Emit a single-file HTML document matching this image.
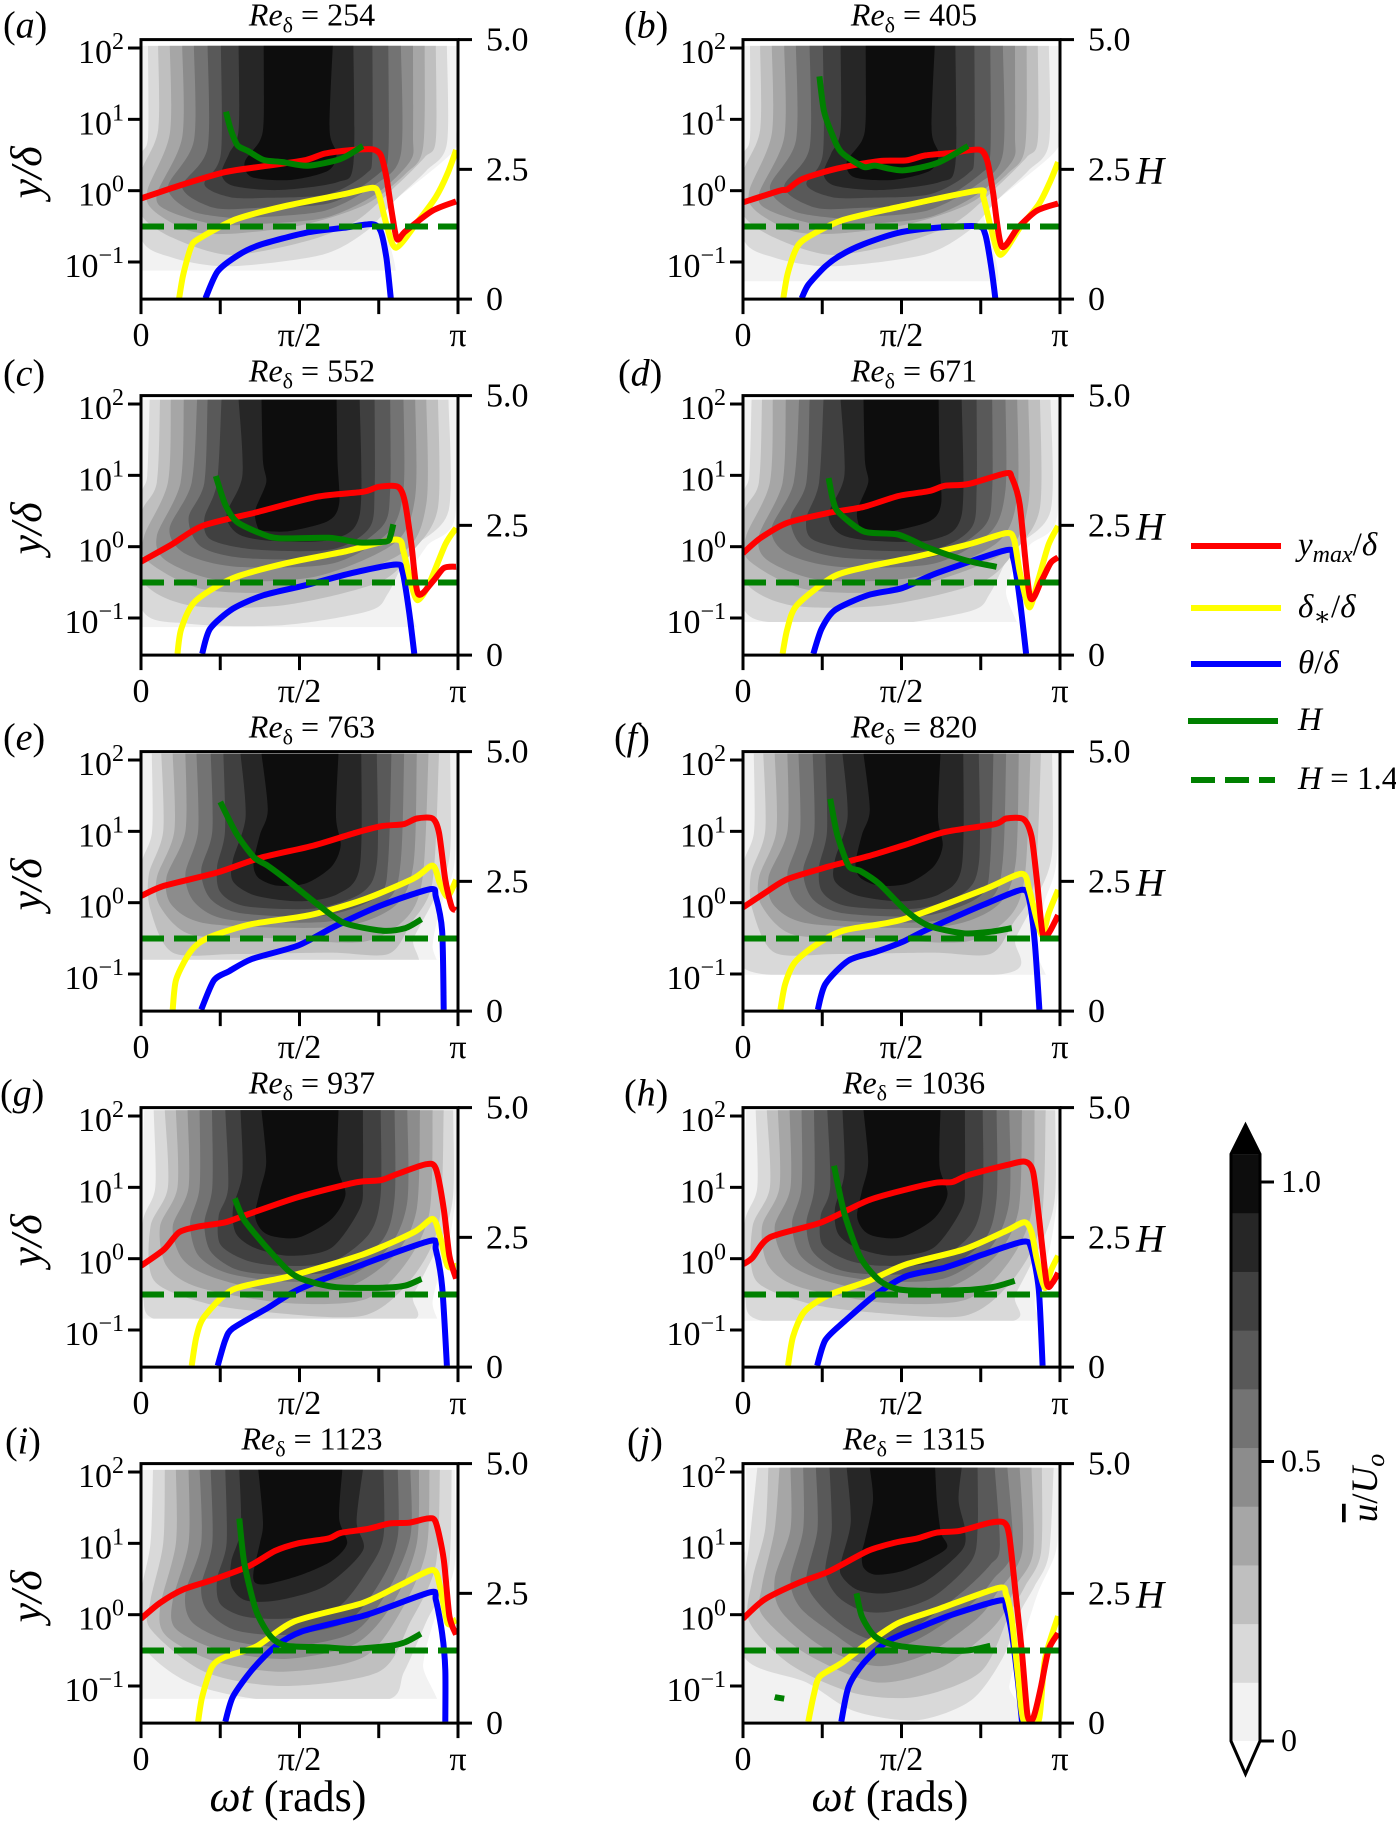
<!DOCTYPE html>
<html><head><meta charset="utf-8"><title>Boundary layer contours</title>
<style>
html,body{margin:0;padding:0;background:#fff;}
#fig{display:block;width:1396px;height:1822px;font-family:"Liberation Serif","DejaVu Serif",serif;}
text{font-family:"Liberation Serif","DejaVu Serif",serif;fill:#000;}
</style></head>
<body>
<svg id="fig" width="1396" height="1822" viewBox="0 0 1396 1822"></svg>
<script>
// ---- shared tick and level data ----
const xTickValues=[0,0.25,0.5,0.75,1];
const xTickLabelValues=[0,0.5,1];
const xTickLabels=['0','π/2','π'];
const yDecades=[-1,0,1,2];
const yDecadeLabels=['−1','0','1','2'];
const hTickValues=[0,2.5,5];
const hTickLabels=['0','2.5','5.0'];
const hReference=1.4;
const levelGrays=['#f2f2f2','#d9d9d9','#bfbfbf','#a6a6a6','#8c8c8c','#737373','#595959','#404040','#262626','#0d0d0d'];
const levelEdges=[0,0.105,0.21,0.315,0.42,0.525,0.63,0.735,0.84,0.945,1.05];
const cbarTicks=[0,0.5,1];
const cbarTickLabels=['0','0.5','1.0'];
const reValues=[254,405,552,671,763,820,937,1036,1123,1315];
const panelLetters=['a','b','c','d','e','f','g','h','i','j'];
const contourFloors=[-1.12,-1.27,-1.127,-1.056,-0.8,-1.01,-0.84,-0.87,-1.18,-1.52];

// ---- contour outlines: [ωt/π, log10(y/δ)] per level ----
const contourAB=[
[[.005,2.03],[.005,1],[0,.6],[0,-1.6],[.76,-1.6],[.76,-.3],[.81,-.1],[.985,.55],[.994,.9],[.994,2.03]],
[[.022,2.03],[.022,.75],[0,.45],[0,-.66],[.1,-.94],[.28,-1.06],[.57,-.9],[.71,-.57],[.8,-.14],[.9,.28],[.965,.66],[.965,2.03]],
[[.054,2.03],[.054,.85],[0,.25],[0,-.33],[.1,-.66],[.28,-.9],[.52,-.71],[.68,-.42],[.81,.09],[.895,.47],[.93,.71],[.93,2.03]],
[[.091,2.03],[.091,.8],[.02,0],[.04,-.28],[.157,-.57],[.3,-.6],[.52,-.47],[.71,-.19],[.835,.24],[.89,.61],[.895,2.03]],
[[.13,2.03],[.13,.75],[.05,-.05],[.085,-.28],[.23,-.47],[.36,-.47],[.58,-.38],[.74,-.05],[.85,.42],[.858,.8],[.858,2.03]],
[[.167,2.03],[.167,.7],[.085,.05],[.157,-.28],[.28,-.38],[.34,-.38],[.58,-.28],[.74,.09],[.82,.52],[.82,2.03]],
[[.21,2.03],[.21,.6],[.13,.05],[.23,-.24],[.375,-.24],[.6,-.17],[.75,.24],[.78,.52],[.78,2.03]],
[[.252,2.03],[.252,.52],[.2,.09],[.28,-.09],[.4,-.1],[.59,-.05],[.71,.24],[.73,.52],[.73,2.03]],
[[.308,2.03],[.308,.85],[.278,.52],[.254,.24],[.29,.07],[.435,.01],[.62,.12],[.67,.38],[.67,2.03]],
[[.387,2.03],[.387,1],[.375,.7],[.327,.4],[.35,.19],[.47,.15],[.59,.28],[.617,.52],[.595,.85],[.605,2.03]]];
const contourCD=[
[[.003,2.06],[0,1],[0,-1.6],[.83,-1.6],[.83,-.6],[.9,0],[.99,.4],[.994,2.06]],
[[.027,2.06],[.02,1],[0,.65],[0,-.85],[.15,-1.08],[.45,-1.1],[.72,-.9],[.78,-.65],[.85,-.05],[.97,.5],[.97,2.06]],
[[.06,2.06],[.05,.9],[0,.45],[0,-.45],[.15,-.82],[.45,-.82],[.75,-.5],[.86,-.05],[.937,.55],[.937,2.06]],
[[.094,2.06],[.085,.9],[.01,.15],[.02,-.2],[.2,-.6],[.5,-.6],[.82,-.1],[.9,.6],[.9,2.06]],
[[.135,2.06],[.125,.9],[.05,.15],[.08,-.2],[.25,-.47],[.55,-.42],[.8,.05],[.865,.7],[.865,2.06]],
[[.177,2.06],[.16,.9],[.09,.25],[.14,-.1],[.3,-.28],[.6,-.24],[.78,.2],[.828,.8],[.828,2.06]],
[[.21,2.06],[.2,.9],[.15,.4],[.19,0],[.33,-.16],[.6,-.14],[.76,.28],[.786,.8],[.786,2.06]],
[[.254,2.06],[.24,.9],[.2,.4],[.22,.1],[.36,-.04],[.6,-.04],[.72,.26],[.737,.8],[.737,2.06]],
[[.308,2.06],[.32,1],[.27,.45],[.31,.17],[.42,.08],[.6,.1],[.69,.45],[.69,2.06]],
[[.38,2.06],[.385,1.2],[.395,.9],[.36,.5],[.37,.25],[.39,.22],[.47,.22],[.59,.36],[.625,.6],[.62,1.2],[.617,2.06]]];
const contourEF=[
[[.005,2.09],[0,1],[0,-1.6],[.92,-1.6],[.92,-.6],[.95,0],[.99,.6],[.994,2.09]],
[[.034,2.09],[.035,1],[0,.5],[0,-.5],[.06,-1],[.82,-1],[.86,-.5],[.93,.1],[.975,.7],[.975,2.09]],
[[.064,2.09],[.07,1],[.025,.4],[.03,-.1],[.1,-.7],[.3,-.72],[.6,-.7],[.78,-.72],[.85,-.3],[.92,.3],[.94,2.09]],
[[.1,2.09],[.105,1],[.05,.35],[.06,-.05],[.16,-.45],[.42,-.5],[.7,-.55],[.84,-.2],[.89,.4],[.907,2.09]],
[[.14,2.09],[.14,1],[.08,.35],[.1,-.05],[.22,-.3],[.62,-.34],[.8,-.05],[.86,.55],[.87,2.09]],
[[.175,2.09],[.18,1],[.14,.4],[.17,0],[.28,-.24],[.6,-.26],[.78,.05],[.82,.6],[.83,2.09]],
[[.22,2.09],[.225,1],[.19,.45],[.22,.05],[.32,-.15],[.58,-.18],[.75,.1],[.78,.6],[.79,2.09]],
[[.26,2.09],[.265,1],[.24,.5],[.25,.15],[.33,-.05],[.55,-.08],[.7,.15],[.745,.6],[.744,2.09]],
[[.314,2.09],[.33,1.2],[.29,.6],[.29,.3],[.36,.1],[.5,.02],[.62,.12],[.69,.5],[.695,2.09]],
[[.38,2.09],[.4,1.3],[.375,.95],[.355,.55],[.37,.35],[.43,.24],[.52,.27],[.6,.5],[.63,.8],[.615,1.2],[.623,2.09]]];
const contourGH=[
[[.01,2.08],[.005,1],[0,-1.6],[.92,-1.6],[.92,-.6],[.97,.2],[.995,1],[.995,2.08]],
[[.04,2.08],[.045,1],[.005,.5],[.005,-.5],[.1,-.9],[.82,-.9],[.86,-.5],[.95,.3],[.985,.9],[.985,2.08]],
[[.075,2.08],[.085,1],[.03,.45],[.04,-.3],[.2,-.62],[.4,-.75],[.7,-.8],[.85,-.3],[.94,.5],[.955,2.08]],
[[.11,2.08],[.115,1],[.06,.45],[.08,-.1],[.18,-.4],[.45,-.62],[.7,-.58],[.83,-.1],[.91,.65],[.92,2.08]],
[[.147,2.08],[.15,1],[.1,.45],[.13,0],[.22,-.25],[.42,-.46],[.65,-.4],[.8,.05],[.87,.7],[.88,2.08]],
[[.185,2.08],[.185,1],[.155,.5],[.18,.05],[.27,-.2],[.45,-.32],[.64,-.27],[.78,.15],[.84,.8],[.84,2.08]],
[[.224,2.08],[.225,1],[.2,.5],[.22,.1],[.3,-.15],[.42,-.22],[.62,-.17],[.76,.25],[.8,.85],[.8,2.08]],
[[.266,2.08],[.275,1],[.245,.6],[.25,.2],[.33,-.02],[.44,-.1],[.6,-.05],[.72,.35],[.756,.9],[.756,2.08]],
[[.314,2.08],[.32,1.2],[.29,.7],[.3,.35],[.36,.15],[.47,.04],[.6,.15],[.69,.7],[.7,1.1],[.7,2.08]],
[[.38,2.08],[.395,1.35],[.375,.95],[.36,.6],[.38,.4],[.42,.31],[.5,.3],[.6,.55],[.645,.9],[.62,1.3],[.623,2.08]]];
const contourI=[
[[.005,2.03],[0,1],[0,-1.6],[.89,-1.6],[.89,-.7],[.93,0],[.99,.7],[.99,2.03]],
[[.038,2.03],[.03,1],[0,.3],[0,-.4],[.15,-.95],[.4,-1.2],[.77,-1.2],[.83,-.8],[.9,-.1],[.97,.6],[.98,2.03]],
[[.075,2.03],[.07,1],[.03,.2],[.03,-.2],[.2,-.8],[.45,-1],[.75,-.8],[.85,-.1],[.93,.7],[.943,2.03]],
[[.11,2.03],[.11,1],[.06,.1],[.08,-.3],[.23,-.65],[.45,-.8],[.7,-.6],[.82,.05],[.9,.9],[.91,2.03]],
[[.15,2.03],[.15,1],[.1,.2],[.11,-.2],[.25,-.5],[.46,-.62],[.68,-.4],[.8,.2],[.87,1],[.877,2.03]],
[[.185,2.03],[.19,1],[.14,.3],[.16,-.1],[.27,-.35],[.46,-.45],[.67,-.25],[.78,.35],[.85,1.1],[.85,2.03]],
[[.22,2.03],[.225,1],[.19,.4],[.21,.05],[.3,-.22],[.46,-.28],[.65,-.1],[.76,.5],[.81,1.1],[.81,2.03]],
[[.266,2.03],[.27,1],[.24,.5],[.25,.15],[.33,-.03],[.47,-.05],[.62,.1],[.72,.65],[.765,1.1],[.765,2.03]],
[[.31,2.03],[.315,1.2],[.285,.75],[.285,.4],[.33,.2],[.43,.2],[.58,.4],[.7,.9],[.68,1.3],[.7,2.03]],
[[.37,2.03],[.385,1.3],[.375,1],[.355,.6],[.36,.45],[.4,.43],[.5,.55],[.6,.75],[.65,1],[.625,1.35],[.635,2.03]]];
const contourJ=[
[[.01,2.06],[.01,1],[0,.6],[0,-1.6],[.84,-1.6],[.84,-1],[.88,-.4],[.93,.3],[.985,.85],[.994,1.3],[.994,2.06]],
[[.045,2.06],[.02,1],[.005,.5],[.005,-.6],[.2,-.95],[.35,-1.35],[.55,-1.48],[.72,-1.2],[.82,-.6],[.87,0],[.92,.4],[.965,.85],[.98,2.06]],
[[.08,2.06],[.07,1.2],[.03,.5],[.02,-.1],[.15,-.7],[.35,-1.1],[.55,-1.15],[.75,-.8],[.84,0],[.89,.4],[.94,.87],[.943,2.06]],
[[.115,2.06],[.1,1.2],[.06,.4],[.06,0],[.2,-.55],[.42,-.95],[.62,-.75],[.76,-.3],[.82,0],[.86,.4],[.915,.87],[.91,2.06]],
[[.15,2.06],[.15,1.2],[.1,.5],[.12,.05],[.25,-.45],[.42,-.72],[.58,-.55],[.74,-.05],[.8,.3],[.88,.87],[.873,2.06]],
[[.19,2.06],[.19,1.2],[.15,.5],[.18,.1],[.28,-.25],[.4,-.55],[.55,-.35],[.72,.15],[.79,.5],[.85,.9],[.834,2.06]],
[[.23,2.06],[.235,1.2],[.2,.5],[.24,.15],[.33,-.2],[.42,-.35],[.55,-.15],[.7,.35],[.78,.7],[.81,.95],[.794,2.06]],
[[.273,2.06],[.28,1.2],[.26,.6],[.3,.25],[.38,.05],[.47,.05],[.6,.25],[.72,.75],[.74,1.2],[.74,2.06]],
[[.327,2.06],[.34,1.3],[.31,.75],[.31,.55],[.36,.35],[.45,.3],[.57,.45],[.69,.9],[.7,1.2],[.68,1.6],[.69,2.06]],
[[.4,2.06],[.41,1.6],[.385,1.05],[.375,.87],[.38,.66],[.42,.56],[.515,.63],[.64,.92],[.624,1.15],[.612,1.58],[.606,2.06]]];

// ---- series: [ωt/π, log10(y/δ)] ----
const ymaxA=[[0,-.11],[.12,.07],[.266,.26],[.4,.35],[.52,.43],[.58,.52],[.665,.57],[.73,.58],[.756,.5],[.774,.19],[.792,-.33],[.808,-.68],[.834,-.57],[.92,-.28],[.994,-.15]];
const dstarA=[[.12,-1.52],[.133,-1.18],[.157,-.8],[.18,-.68],[.3,-.4],[.46,-.21],[.64,-.05],[.73,.04],[.75,-.05],[.774,-.47],[.804,-.8],[.87,-.45],[.93,-.09],[.967,.24],[.994,.57]];
const thetaA=[[.203,-1.51],[.242,-1.13],[.308,-.9],[.375,-.76],[.52,-.59],[.64,-.52],[.73,-.47],[.756,-.57],[.774,-.94],[.788,-1.51]];
const shapeA=[[.268,3.61],[.284,3.25],[.305,2.96],[.339,2.85],[.387,2.68],[.447,2.64],[.526,2.57],[.629,2.7],[.7,2.95]];
const ymaxB=[[0,-.165],[.115,0],[.14,.02],[.188,.165],[.297,.31],[.43,.415],[.515,.425],[.576,.495],[.66,.53],[.745,.575],[.77,.425],[.788,0],[.816,-.78],[.867,-.52],[.927,-.28],[.994,-.18]];
const dstarB=[[.127,-1.51],[.14,-1.18],[.164,-.85],[.194,-.68],[.31,-.42],[.49,-.23],[.74,0],[.758,-.09],[.782,-.52],[.812,-.9],[.873,-.52],[.933,-.19],[.97,.14],[.994,.4]];
const thetaB=[[.185,-1.51],[.206,-1.32],[.26,-1.06],[.31,-.9],[.38,-.75],[.49,-.59],[.61,-.52],[.74,-.5],[.764,-.61],[.782,-1.04],[.796,-1.51]];
const shapeB=[[.241,4.29],[.255,3.64],[.28,3.19],[.31,2.83],[.38,2.55],[.418,2.57],[.503,2.48],[.612,2.62],[.71,2.95]];
const ymaxC=[[0,-.21],[.097,.03],[.193,.29],[.363,.48],[.556,.7],[.7,.77],[.75,.84],[.81,.84],[.832,.64],[.853,.03],[.874,-.66],[.92,-.49],[.955,-.3],[.994,-.28]];
const dstarC=[[.115,-1.5],[.127,-1.15],[.17,-.77],[.29,-.44],[.46,-.23],[.64,-.07],[.804,.1],[.828,-.07],[.853,-.54],[.873,-.75],[.907,-.54],[.96,.03],[.994,.26]];
const thetaC=[[.193,-1.5],[.218,-1.15],[.29,-.87],[.387,-.68],[.52,-.54],[.665,-.37],[.804,-.25],[.825,-.35],[.846,-.92],[.862,-1.5]];
const shapeC=[[.236,3.45],[.266,2.9],[.302,2.57],[.375,2.35],[.435,2.25],[.592,2.26],[.69,2.17],[.774,2.19],[.786,2.28],[.796,2.52]];
const ymaxD=[[0,-.09],[.055,.12],[.14,.335],[.273,.476],[.38,.557],[.49,.71],[.588,.78],[.636,.854],[.71,.877],[.83,1.03],[.848,.97],[.873,.59],[.905,-.7],[.94,-.49],[.97,-.23],[.994,-.15]];
const dstarD=[[.125,-1.5],[.14,-1.15],[.17,-.82],[.285,-.42],[.394,-.28],[.527,-.16],[.71,.03],[.83,.19],[.855,.1],[.873,-.35],[.903,-.85],[.933,-.44],[.964,.03],[.994,.29]];
const thetaD=[[.222,-1.5],[.248,-1.15],[.29,-.89],[.394,-.68],[.503,-.58],[.612,-.37],[.83,-.05],[.852,-.16],[.873,-.73],[.893,-1.5]];
const shapeD=[[.27,3.41],[.285,2.96],[.303,2.74],[.382,2.38],[.49,2.32],[.588,2.06],[.7,1.83],[.8,1.7]];
const ymaxE=[[0,.094],[.073,.236],[.242,.425],[.375,.627],[.544,.8],[.677,.98],[.762,1.075],[.828,1.1],[.87,1.18],[.92,1.18],[.94,.98],[.96,.32],[.98,-.06],[.994,-.1]];
const dstarE=[[.1,-1.5],[.11,-1.09],[.145,-.76],[.18,-.575],[.23,-.46],[.35,-.3],[.532,-.175],[.7,.04],[.86,.34],[.92,.52],[.943,.27],[.967,.085],[.994,.32]];
const thetaE=[[.19,-1.5],[.23,-1.09],[.278,-.96],[.35,-.79],[.496,-.6],[.617,-.32],[.762,-.03],[.913,.19],[.93,.085],[.95,-.39],[.955,-1.5]];
const shapeE=[[.25,4.03],[.302,3.41],[.357,2.96],[.4,2.8],[.47,2.48],[.556,2.06],[.64,1.7],[.762,1.55],[.834,1.6],[.885,1.77]];
const ymaxF=[[0,-.066],[.067,.13],[.14,.33],[.273,.51],[.394,.65],[.515,.816],[.636,.99],[.794,1.1],[.83,1.18],[.885,1.17],[.91,.93],[.927,.32],[.945,-.43],[.964,-.43],[.994,-.175]];
const dstarF=[[.118,-1.5],[.133,-1.14],[.164,-.835],[.236,-.575],[.32,-.387],[.503,-.236],[.758,.18],[.879,.406],[.903,.18],[.927,-.245],[.945,-.46],[.964,-.15],[.994,.18]];
const thetaF=[[.236,-1.5],[.26,-1.14],[.333,-.81],[.418,-.69],[.503,-.55],[.576,-.387],[.758,-.03],[.879,.18],[.903,.04],[.92,-.53],[.935,-1.5]];
const shapeF=[[.275,4.09],[.297,3.41],[.333,2.8],[.37,2.7],[.43,2.45],[.515,1.93],[.588,1.64],[.697,1.5],[.782,1.53],[.848,1.6]];
const ymaxG=[[0,-.1],[.073,.13],[.12,.37],[.18,.45],[.266,.51],[.34,.627],[.496,.863],[.677,1.07],[.756,1.1],[.81,1.19],[.9,1.325],[.93,1.264],[.955,.7],[.973,.04],[.994,-.28]];
const dstarG=[[.16,-1.5],[.175,-1.09],[.2,-.81],[.29,-.434],[.47,-.245],[.7,.06],[.86,.37],[.92,.557],[.943,.32],[.967,-.1],[.994,-.1]];
const thetaG=[[.242,-1.5],[.266,-1.14],[.29,-.976],[.4,-.69],[.496,-.434],[.7,-.08],[.913,.25],[.93,.13],[.95,-.387],[.965,-1.5]];
const shapeG=[[.296,3.25],[.326,2.83],[.4,2.28],[.47,1.83],[.52,1.67],[.617,1.54],[.762,1.53],[.834,1.57],[.885,1.7]];
const ymaxH=[[0,-.08],[.03,.014],[.085,.3],[.248,.51],[.394,.816],[.515,.97],[.612,1.066],[.66,1.075],[.71,1.17],[.83,1.31],[.89,1.36],[.915,1.217],[.933,.6],[.958,-.34],[.976,-.34],[.994,-.2]];
const dstarH=[[.142,-1.5],[.158,-1.09],[.194,-.74],[.273,-.505],[.394,-.316],[.515,-.08],[.697,.13],[.83,.39],[.888,.51],[.91,.37],[.927,-.01],[.952,-.41],[.973,-.15],[.994,.04]];
const thetaH=[[.234,-1.5],[.26,-1.14],[.32,-.88],[.418,-.505],[.515,-.245],[.636,-.127],[.758,.06],[.885,.24],[.91,.13],[.933,-.434],[.945,-1.5]];
const shapeH=[[.287,3.88],[.32,2.96],[.37,2.12],[.43,1.67],[.49,1.5],[.576,1.47],[.72,1.49],[.794,1.55],[.857,1.66]];
const ymaxI=[[0,-.056],[.06,.165],[.133,.353],[.23,.494],[.34,.68],[.423,.894],[.496,1],[.592,1.07],[.63,1.146],[.713,1.2],[.786,1.28],[.846,1.29],[.907,1.35],[.93,1.294],[.955,.776],[.973,-.02],[.994,-.28]];
const dstarI=[[.18,-1.5],[.193,-1.15],[.224,-.73],[.266,-.59],[.363,-.447],[.484,-.094],[.7,.165],[.822,.424],[.92,.626],[.943,.4],[.967,-.118],[.994,-.07]];
const thetaI=[[.266,-1.5],[.29,-1.15],[.35,-.776],[.423,-.447],[.508,-.235],[.713,0],[.913,.315],[.93,.21],[.95,-.26],[.96,-.776],[.96,-1.5]];
const shapeI=[[.31,3.94],[.326,3.08],[.363,2.17],[.41,1.66],[.46,1.49],[.58,1.46],[.665,1.43],[.786,1.49],[.834,1.56],[.883,1.72]];
const ymaxJ=[[0,-.056],[.067,.21],[.176,.447],[.273,.61],[.394,.894],[.48,1.01],[.55,1.07],[.612,1.15],[.685,1.176],[.78,1.29],[.824,1.29],[.84,1.1],[.86,.3],[.88,-.54],[.897,-1.39],[.91,-1.48],[.92,-1.39],[.94,-1.01],[.964,-.49],[.994,-.26]];
const dstarJ=[[.206,-1.5],[.224,-1.11],[.242,-.87],[.31,-.68],[.394,-.4],[.49,-.118],[.612,.07],[.806,.376],[.83,.28],[.848,-.07],[.867,-.82],[.885,-1.48],[.933,-1.48],[.952,-.635],[.994,-.02]];
const thetaJ=[[.31,-1.5],[.333,-1.01],[.38,-.68],[.455,-.376],[.564,-.165],[.66,0],[.812,.2],[.83,.094],[.848,-.26],[.867,-.92],[.88,-1.5]];
const shapeJ=[[.358,2.5],[.376,2.04],[.418,1.66],[.49,1.49],[.636,1.4],[.71,1.4],[.78,1.49]];
const shapeJFragment=[[.1,.5],[.13,.47]];

const contourSets=[contourAB,contourAB,contourCD,contourCD,contourEF,contourEF,contourGH,contourGH,contourI,contourJ];
const ymaxSeries=[ymaxA,ymaxB,ymaxC,ymaxD,ymaxE,ymaxF,ymaxG,ymaxH,ymaxI,ymaxJ];
const dstarSeries=[dstarA,dstarB,dstarC,dstarD,dstarE,dstarF,dstarG,dstarH,dstarI,dstarJ];
const thetaSeries=[thetaA,thetaB,thetaC,thetaD,thetaE,thetaF,thetaG,thetaH,thetaI,thetaJ];
const shapeSeries=[shapeA,shapeB,shapeC,shapeD,shapeE,shapeF,shapeG,shapeH,shapeI,shapeJ];

// ---- layout (not data) ----
const AX={w:317,h:259.5,cols:[141,743],top0:39.6,rowStep:356,logMin:-1.52,logMax:2.118,hMax:5};
const labelOffsets=[3,624,3,618,3,614,0,624,5,627];
const labelRise=[2,10,2,2,10];
const COL={red:'#ff0000',yellow:'#ffff00',blue:'#0000ff',green:'#008000'};
const LW=6;

const svg=document.getElementById('fig');
const NS=svg.namespaceURI;
function mk(parent,tag,attrs,text){
  const e=document.createElementNS(NS,tag);
  for(const k in attrs)e.setAttribute(k,attrs[k]);
  if(text!==undefined)e.textContent=text;
  parent.appendChild(e);
  return e;
}
function smooth(pts,k){
  let d='M'+pts[0][0].toFixed(1)+' '+pts[0][1].toFixed(1);
  for(let i=0;i<pts.length-1;i++){
    const p1=pts[i],p2=pts[i+1],p0=pts[i-1]||p1,p3=pts[i+2]||p2;
    d+='C'+(p1[0]+(p2[0]-p0[0])*k).toFixed(1)+' '+(p1[1]+(p2[1]-p0[1])*k).toFixed(1)+' '+
       (p2[0]-(p3[0]-p1[0])*k).toFixed(1)+' '+(p2[1]-(p3[1]-p1[1])*k).toFixed(1)+' '+
       p2[0].toFixed(1)+' '+p2[1].toFixed(1);
  }
  return d;
}

panelLetters.forEach(function(letter,idx){
  const col=idx%2,row=Math.floor(idx/2);
  const L=AX.cols[col],R=L+AX.w,T=AX.top0+row*AX.rowStep,B=T+AX.h;
  const xScale=function(f){return L+f*AX.w;};
  const yScale=function(v){return B-(v-AX.logMin)/(AX.logMax-AX.logMin)*AX.h;};
  const hScale=function(v){return B-v/AX.hMax*AX.h;};

  const g=mk(svg,'g',{});
  
  

  const clip=mk(g,'clipPath',{id:'clip-'+letter});
  mk(clip,'rect',{x:L,y:T,width:AX.w,height:AX.h});
  const floorClip=mk(g,'clipPath',{id:'floor-'+letter});
  mk(floorClip,'rect',{x:L,y:T,width:AX.w,height:yScale(contourFloors[idx])-T});

  // contours
  const cg=mk(g,'g',{'clip-path':'url(#floor-'+letter+')'});
  
  
  contourSets[idx].forEach(function(level,li){
    const pts=level.map(function(p){return [xScale(p[0]),yScale(p[1])];});
    const path=mk(cg,'path',{d:smooth(pts,0.14)+'Z',fill:levelGrays[li]});
    
    
  });

  // series
  const sg=mk(g,'g',{'clip-path':'url(#clip-'+letter+')',fill:'none','stroke-linejoin':'round'});
  function series(data,color,name,yfn){
    const pts=data.map(function(p){return [xScale(p[0]),yfn(p[1])];});
    const path=mk(sg,'path',{d:smooth(pts,0.13),stroke:color,'stroke-width':LW});
    
    
  }
  series(thetaSeries[idx],COL.blue,'theta-curve',yScale);
  series(dstarSeries[idx],COL.yellow,'displacement-thickness-curve',yScale);
  series(ymaxSeries[idx],COL.red,'ymax-curve',yScale);
  series(shapeSeries[idx],COL.green,'shape-factor-curve',hScale);
  if(letter==='j')series(shapeJFragment,COL.green,'shape-factor-fragment',hScale);
  const ref=mk(sg,'line',{x1:L,x2:R,y1:hScale(hReference),y2:hScale(hReference),stroke:COL.green,'stroke-width':LW,'stroke-dasharray':'23 10'});
  
  

  // frame
  const frame=mk(g,'rect',{x:L,y:T,width:AX.w,height:AX.h,fill:'none',stroke:'#000','stroke-width':3});
  
  

  // x ticks
  xTickValues.forEach(function(v){
    const t=mk(g,'line',{x1:xScale(v),x2:xScale(v),y1:B,y2:B+15,stroke:'#000','stroke-width':3});
    
    
  });
  xTickLabelValues.forEach(function(v,i){
    const t=mk(g,'text',{x:xScale(v),y:B+47,'text-anchor':'middle','font-size':34},xTickLabels[i]);
    
    
  });
  // left ticks
  yDecades.forEach(function(v,i){
    const y=yScale(v);
    const t=mk(g,'line',{x1:L-13,x2:L,y1:y,y2:y,stroke:'#000','stroke-width':3});
    
    
    const lab=mk(g,'text',{x:L-17,y:y+15,'text-anchor':'end','font-size':34},'10');
    
    
    mk(lab,'tspan',{dy:-14,'font-size':24},yDecadeLabels[i]);
  });
  // right ticks
  hTickValues.forEach(function(v,i){
    const y=hScale(v);
    const t=mk(g,'line',{x1:R,x2:R+14,y1:y,y2:y,stroke:'#000','stroke-width':3});
    
    
    const lab=mk(g,'text',{x:R+28,y:y+11,'font-size':34},hTickLabels[i]);
    
    
  });
  // title
  const title=mk(g,'text',{x:L+171,y:T-14,'text-anchor':'middle','font-size':32});
  
  
  mk(title,'tspan',{'font-style':'italic'},'Re');
  mk(title,'tspan',{'font-size':22,dy:7},'δ');
  mk(title,'tspan',{dy:-7},' = '+reValues[idx]);
  // panel label
  const pl=mk(g,'text',{x:labelOffsets[idx],y:T-labelRise[row],'font-size':38});
  
  
  mk(pl,'tspan',{},'(');
  mk(pl,'tspan',{'font-style':'italic'},letter);
  mk(pl,'tspan',{},')');
  // y axis title
  if(col===0){
    const cx=31,cy=T+AX.h/2+3;
    const yt=mk(g,'text',{x:cx,y:cy,transform:'rotate(-90 '+cx+' '+cy+')','text-anchor':'middle','font-size':44,'font-style':'italic','dominant-baseline':'middle'},'y/δ');
    
    
  } else {
    const ht=mk(g,'text',{x:R+76,y:hScale(2.5)+14,'font-size':39,'font-style':'italic'},'H');
    
    
  }
  // x axis title
  if(row===4){
    const xt=mk(g,'text',{x:L+147,y:B+88,'text-anchor':'middle','font-size':44});
    
    
    mk(xt,'tspan',{'font-style':'italic'},'ωt');
    mk(xt,'tspan',{},' (rads)');
  }
});

// ---- legend ----
const legendY=[546,608,664,721,780];
const legendColors=[COL.red,COL.yellow,COL.blue,COL.green,COL.green];
const legendNames=['ymax','displacement-thickness','momentum-thickness','shape-factor','h-equals-1.4'];
const lg=mk(svg,'g',{});


legendY.forEach(function(y,i){
  const x0=i===3?1188:1191, x1=i===3?1278:(i===4?1275:1281);
  const a={x1:x0,x2:x1,y1:y,y2:y,stroke:legendColors[i],'stroke-width':6};
  if(i===4)a['stroke-dasharray']='24 10';
  const s=mk(lg,'line',a);
  
  
  const t=mk(lg,'text',{x:1298,y:y+9,'font-size':33});
  
  
  if(i===0){mk(t,'tspan',{'font-style':'italic'},'y');mk(t,'tspan',{'font-style':'italic','font-size':24,dy:7},'max');mk(t,'tspan',{dy:-7},'/');mk(t,'tspan',{'font-style':'italic'},'δ');}
  if(i===1){mk(t,'tspan',{'font-style':'italic'},'δ');mk(t,'tspan',{'font-size':26,dy:8},'∗');mk(t,'tspan',{dy:-8},'/');mk(t,'tspan',{'font-style':'italic'},'δ');}
  if(i===2){mk(t,'tspan',{'font-style':'italic'},'θ');mk(t,'tspan',{},'/');mk(t,'tspan',{'font-style':'italic'},'δ');}
  if(i===3){mk(t,'tspan',{'font-style':'italic'},'H');}
  if(i===4){mk(t,'tspan',{'font-style':'italic'},'H');mk(t,'tspan',{},' = 1.4');}
});

// ---- colorbar ----
const CB={l:1231,r:1260,y0:1741,unit:559,tipTop:1125,tipBot:1774};
const cbY=function(v){return CB.y0-v*CB.unit;};
const cb=mk(svg,'g',{});


levelGrays.forEach(function(c,i){
  const r=mk(cb,'rect',{x:CB.l,width:CB.r-CB.l,y:cbY(levelEdges[i+1]),height:cbY(levelEdges[i])-cbY(levelEdges[i+1])+0.5,fill:c});
  
  
});
const cbMid=(CB.l+CB.r)/2, cbTop=cbY(levelEdges[10]), cbBot=cbY(levelEdges[0]);
const tipT=mk(cb,'polygon',{points:CB.l+','+cbTop+' '+cbMid+','+CB.tipTop+' '+CB.r+','+cbTop,fill:'#000'});


const tipB=mk(cb,'polygon',{points:CB.l+','+cbBot+' '+cbMid+','+CB.tipBot+' '+CB.r+','+cbBot,fill:'#fff'});


const outline=mk(cb,'polygon',{points:CB.l+','+cbTop+' '+cbMid+','+CB.tipTop+' '+CB.r+','+cbTop+' '+CB.r+','+cbBot+' '+cbMid+','+CB.tipBot+' '+CB.l+','+cbBot,fill:'none',stroke:'#000','stroke-width':3});


cbarTicks.forEach(function(v,i){
  const y=cbY(v);
  const t=mk(cb,'line',{x1:CB.r,x2:CB.r+14,y1:y,y2:y,stroke:'#000','stroke-width':3});
  
  
  const lab=mk(cb,'text',{x:CB.r+21,y:y+10,'font-size':32},cbarTickLabels[i]);
  
  
});
const cbt=mk(cb,'text',{x:1377,y:1488,transform:'rotate(-90 1377 1488)','text-anchor':'middle','font-size':37});


mk(cbt,'tspan',{'font-style':'italic','text-decoration':'overline'},'u');
mk(cbt,'tspan',{},'/');
mk(cbt,'tspan',{'font-style':'italic'},'U');
mk(cbt,'tspan',{'font-style':'italic','font-size':26,dy:7},'o');
</script>
</body></html>
